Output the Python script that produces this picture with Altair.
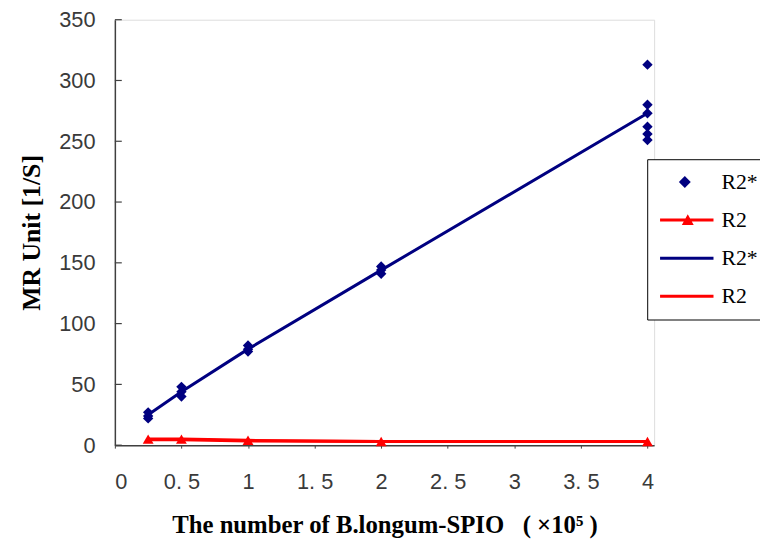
import altair as alt
import pandas as pd

# ---- data ----
x_levels = [0.25, 0.5, 1, 2, 4]
r2s_x = [0.25, 0.25, 0.25, 0.5, 0.5, 0.5, 1, 1, 1, 2, 2, 2, 4, 4, 4, 4, 4, 4]
r2s_y = [22, 24, 27, 40, 44, 48, 77, 79, 82, 141, 144, 147, 313, 280, 273, 262, 256, 251]
r2s_fit = [25, 44, 79, 144, 273]
r2_y = [5, 5, 4, 3, 3]
r2_fit = [4.5, 4.5, 3.5, 3, 3]
y_ticks = [0, 50, 100, 150, 200, 250, 300, 350]
x_ticks = [0, 0.5, 1, 1.5, 2, 2.5, 3, 3.5, 4]
legend_labels = ["R2*", "R2", "R2* ", "R2 "]
NB = "\u00a0"
x_title = "The number of B.longum-SPIO" + NB * 3 + "(" + NB + "×10⁵" + NB + ")"

NAVY = "#000080"
RED = "#ff0000"
AXIS = "#404040"

pts = pd.DataFrame({"x": r2s_x, "y": r2s_y})
r2 = pd.DataFrame({"x": x_levels, "y": r2_y})
fit_s = pd.DataFrame({"x": x_levels, "y": r2s_fit})
fit_r = pd.DataFrame({"x": x_levels, "y": r2_fit})
yt = pd.DataFrame({"v": y_ticks})

xscale = alt.Scale(domain=[0, 4.05], nice=False, zero=False)
yscale = alt.Scale(domain=[0, 350], nice=False)

xenc = alt.X(
    "x:Q", scale=xscale,
    axis=alt.Axis(
        values=x_ticks, title=x_title,
        format="~g",
        labelExpr="replace(datum.label, '.', '. ')",
        grid=False, tickSize=3, tickColor=AXIS, domainColor=AXIS, domainWidth=1.5,
        labelFont="Liberation Sans", labelFontSize=22, labelColor="#3a3a3a",
        labelPadding=24, titleFont="Liberation Serif", titleFontSize=25,
        titleFontWeight="bold", titleColor="#000000", titlePadding=20,
    ),
)
yenc = alt.Y(
    "y:Q", scale=yscale,
    axis=alt.Axis(
        values=y_ticks, title="MR Unit [1/S]", grid=False, tickSize=0,
        domainColor=AXIS, domainWidth=1.5,
        labelFont="Liberation Sans", labelFontSize=22, labelColor="#3a3a3a",
        labelPadding=20, titleFont="Liberation Serif", titleFontSize=26,
        titleFontWeight="bold", titleColor="#000000", titlePadding=14,
    ),
)

line_fit_s = alt.Chart(fit_s).mark_line(color=NAVY, strokeWidth=3).encode(x=xenc, y=yenc)
line_fit_r = alt.Chart(fit_r).mark_line(color=RED, strokeWidth=3).encode(x=xenc, y=yenc)
line_r2 = alt.Chart(r2).mark_line(color=RED, strokeWidth=3).encode(x=xenc, y=yenc)
pts_s = alt.Chart(pts).mark_point(shape="diamond", filled=True, opacity=1, size=110, color=NAVY).encode(x=xenc, y=yenc)
pts_r = alt.Chart(r2).mark_point(shape="triangle-up", filled=True, opacity=1, size=120, color=RED).encode(x=xenc, y=yenc)

ticks_y = alt.Chart(yt).mark_rule(color=AXIS, strokeWidth=1.2).encode(
    y=alt.Y("v:Q", scale=yscale), x=alt.value(0), x2=alt.value(7)
)

BAR = "M-1,-0.15H4.4V0.15H-1Z"
shapes = [
    "M1.5,-0.6L2.1,0L1.5,0.6L0.9,0Z",
    BAR + "M1.2,0.5L1.8,-0.6L2.4,0.5Z",
    BAR,
    BAR,
]

legend_layer = (
    alt.Chart(pts)
    .transform_filter("datum.x < 0")
    .transform_calculate(series="'R2*'")
    .mark_point(filled=True, opacity=1, strokeWidth=0)
    .encode(
        x=xenc, y=yenc,
        color=alt.Color(
            "series:N",
            scale=alt.Scale(domain=legend_labels, range=[NAVY, RED, NAVY, RED]),
            legend=alt.Legend(
                title=None, orient="none", legendX=538, legendY=141,
                symbolSize=400, symbolStrokeWidth=0, symbolOpacity=1,
                labelFont="Liberation Serif", labelFontSize=22, labelColor="#000000",
                labelOffset=41, rowPadding=16.5, padding=12,
                strokeColor="#000000", fillColor="#ffffff", labelLimit=200,
            ),
        ),
        shape=alt.Shape(
            "series:N",
            scale=alt.Scale(domain=legend_labels, range=shapes),
        ),
    )
)

chart = (
    alt.layer(line_fit_r, line_r2, line_fit_s, pts_s, pts_r, ticks_y, legend_layer)
    .properties(
        width=545, height=430,
        autosize=alt.AutoSizeParams(type="none"),
        padding={"left": 108, "top": 9, "right": 107, "bottom": 92},
    )
    .configure_view(stroke=None)
    .configure(background="#ffffff")
)

chart.save("out.html", embed_options={"renderer": "svg", "actions": False})
